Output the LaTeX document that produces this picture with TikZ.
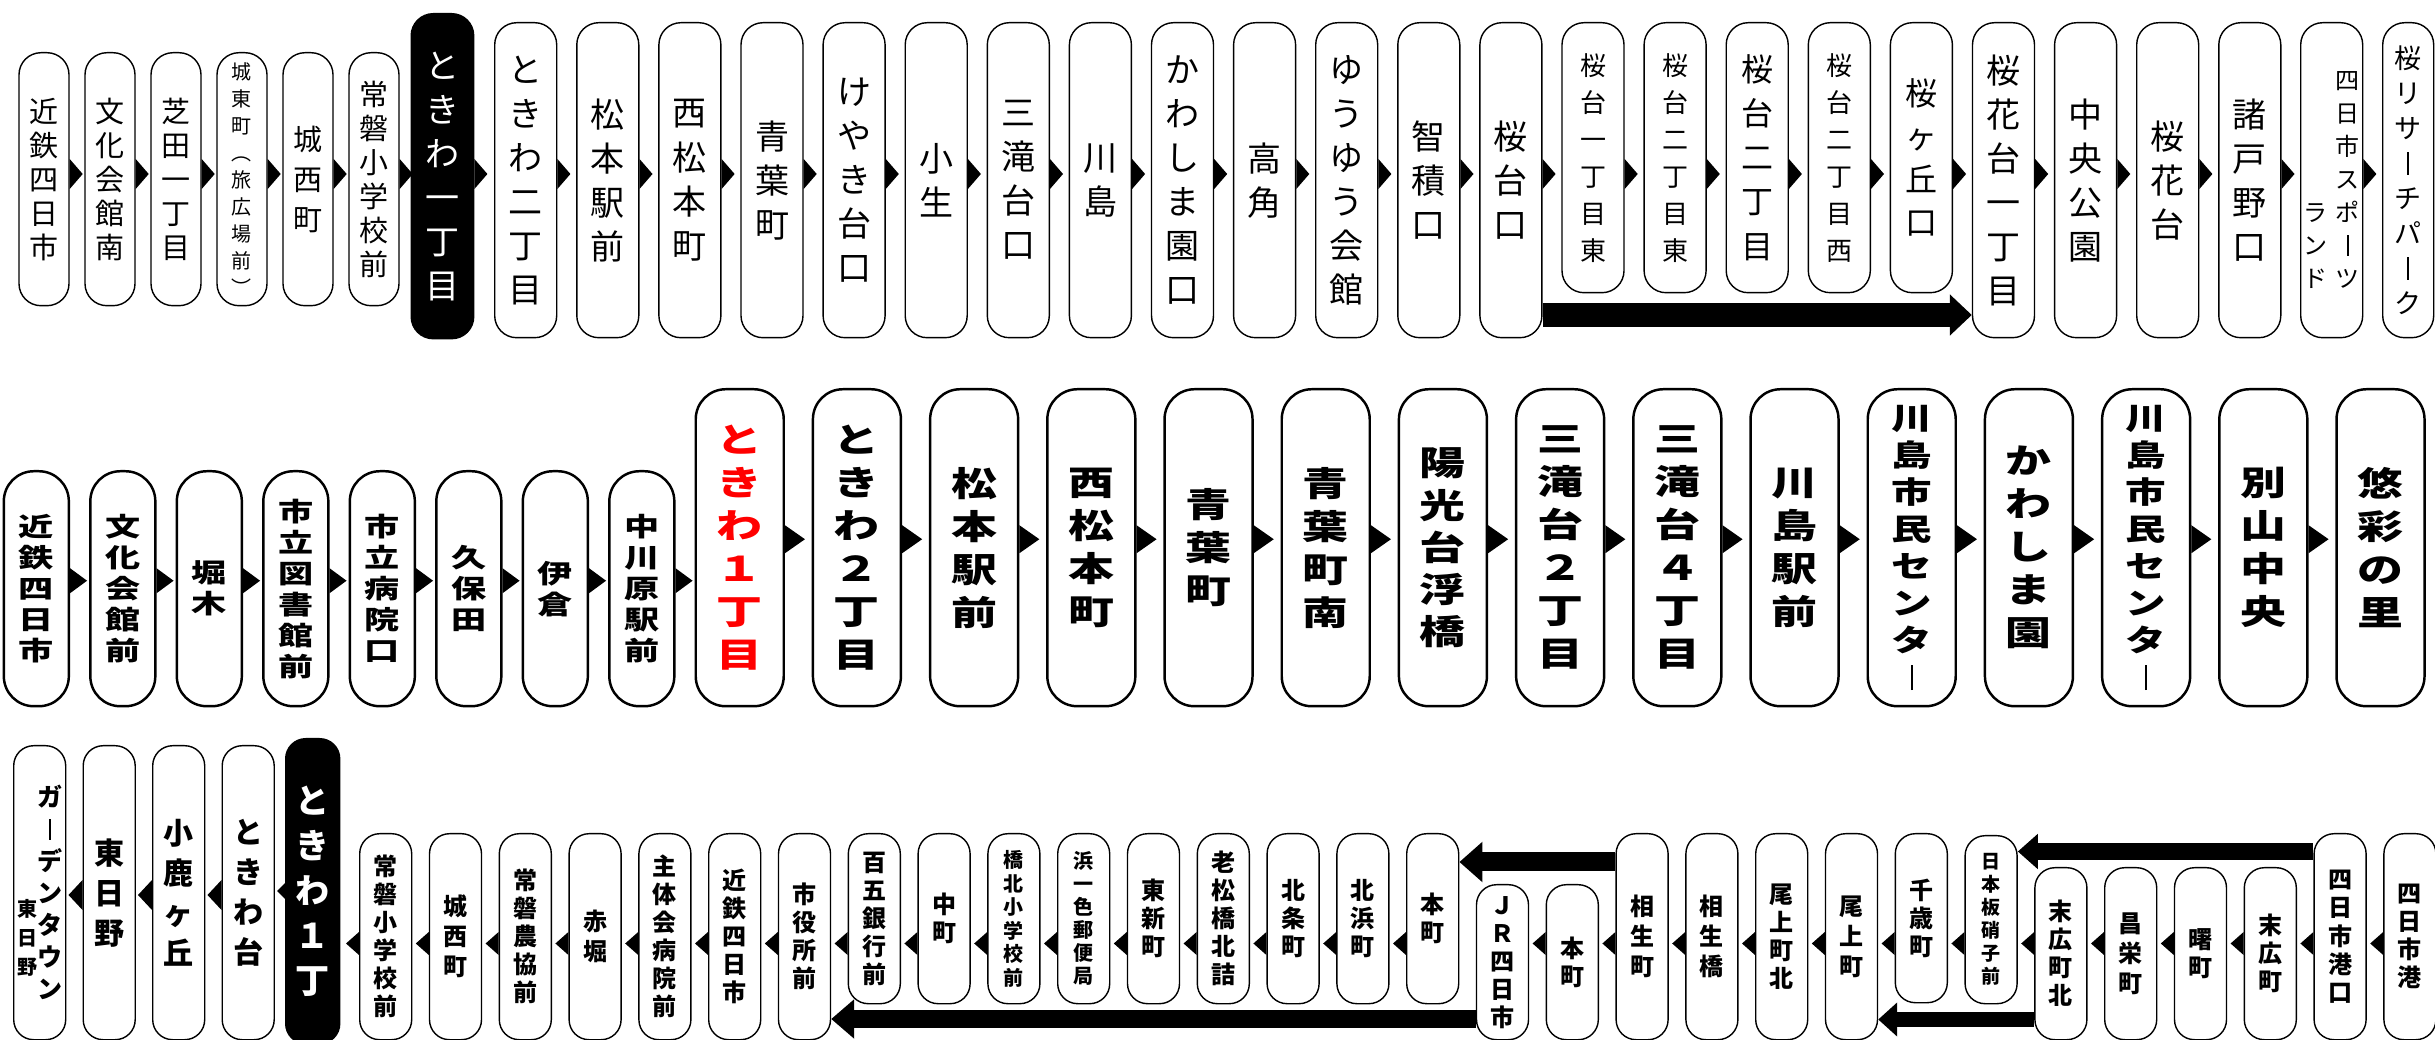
\documentclass[tikz,border=0pt]{standalone}
\usepackage{fontspec}
\newfontfamily\jp{Noto Sans CJK JP}
\newfontfamily\jpw[FakeStretch=1.35]{Noto Sans CJK JP}
\usetikzlibrary{arrows.meta}
\makeatletter
\newcommand\fpx[2]{\fontsize{\fpeval{(#1)*0.28453}pt}{\fpeval{(#2)*0.28453}pt}\selectfont}
\protected\def\cho{\rule[-0.04em]{0.08em}{0.84em}}
\newcommand\tate[1]{\edef\tate@l{#1}\vbox{\expandafter\@tfor\expandafter\tate@c\expandafter:\expandafter=\tate@l\do{\hbox to 1em{\hss\tate@c\hss}}}}
\makeatother
\begin{document}
\begin{tikzpicture}[x=0.01cm,y=-0.01cm,line join=round,
  stn/.style={draw,fill=white,anchor=north west,inner sep=0pt,line width=0.4pt},
  sz/.style 2 args={minimum width=#1*0.01cm,minimum height=#2*0.01cm},
  rowa/.style={stn,rounded corners=0.22cm,font=\jp},
  rowb/.style={stn,rounded corners=0.3cm,line width=0.7pt,font=\jpw\bfseries},
  rowc/.style={stn,rounded corners=0.2cm,font=\jp\bfseries},
  dark/.style={fill=black,text=white},
  bar/.style={line width=#1*0.01cm,line cap=butt}]
\useasboundingbox (0,0) rectangle (2435,1040);
\foreach \nm/\fz/\ls [count=\i] in {近鉄四日市/29/34,文化会館南/29/34,芝田一丁目/29/34,城東町︵旅広場前︶/20/27,城西町/29/40,常磐小学校前/29/34}
  \node[rowa,sz={50}{253}] (a\i) at ({18.3+66*(\i-1)},52) {\fpx{\fz}{\ls}\tate{\nm}};
\node[rowa,dark,sz={62.5}{325}] (a7) at (410.5,13) {\fpx{34}{44}\tate{ときわ一丁目}};
\foreach \nm/\fz/\ls/\hh [count=\i from 8] in {ときわ二丁目/34/44/315,松本駅前/34/44/315,西松本町/34/44/315,青葉町/34/44/315,けやき台口/34/44/315,小生/34/44/315,三滝台口/34/44/315,川島/34/44/315,かわしま園口/34/44/315,高角/34/44/315,ゆうゆう会館/34/44/315,智積口/34/44/315,桜台口/34/44/315,
  桜台一丁目東/26/37/270,桜台二丁目東/26/37/270,桜台二丁目/32/44/270,桜台二丁目西/26/37/270,桜ヶ丘口/32/43/270,
  桜花台一丁目/34/44/315,中央公園/34/44/315,桜花台/34/44/315,諸戸野口/34/44/315}
  \node[rowa,sz={62}{\hh}] (a\i) at ({494+82.1*(\i-8)},22) {\fpx{\fz}{\ls}\tate{\nm}};
\node[rowa,sz={62}{315}] (a30) at (2300,22) {\fpx{24}{33}\tate{ランド}\kern0.08cm\tate{四日市スポ\cho ツ}};
\node[rowa,sz={51}{315}] (a31) at (2382,22) {\fpx{27}{35}\tate{桜リサ\cho チパ\cho ク}};
\foreach \i in {1,...,30}
  \fill (a\i.east |- 0,159) -- ++(13,15) -- ++(-13,15) -- cycle;
\draw[bar=24,-{Triangle[length=0.22cm,width=0.40cm]}] (a20.east |- 0,315) -- (a26.west |- 0,315);

\foreach \nm [count=\i] in {近鉄四日市,文化会館前,堀木,市立図書館前,市立病院口,久保田,伊倉,中川原駅前}
  \node[rowb,sz={65}{235}] (b\i) at ({2.6+86.5*(\i-1)},470) {\fpx{26}{31}\tate{\nm}};
\node[rowb,text=red,sz={88}{317}] (b9) at (694.5,388) {\fpx{34}{43}\tate{ときわ１丁目}};
\foreach \nm/\fz/\ls [count=\i from 10] in {ときわ２丁目/34/43,松本駅前/34/43,西松本町/34/43,青葉町/34/43,青葉町南/34/43,陽光台浮橋/34/42,三滝台２丁目/34/43,三滝台４丁目/34/43,川島駅前/34/43,川島市民センタ\cho/30/37,かわしま園/34/43,川島市民センタ\cho/30/37,別山中央/34/43,悠彩の里/34/43}
  \node[rowb,sz={88}{317}] (b\i) at ({694.5+117.2*(\i-9)},388) {\fpx{\fz}{\ls}\tate{\nm}};
\foreach \i in {1,...,8}
  \fill (b\i.east) ++(0,-20.5) -- ++(17,12.5) -- ++(-17,12.5) -- cycle;
\foreach \i in {9,...,22}
  \fill (b\i.east) ++(0,-22.5) -- ++(20,14) -- ++(-20,14) -- cycle;

\node[rowc,sz={52}{294}] (c1) at (13,745) {\raisebox{0.24cm}{\fpx{20}{29}\tate{東日野}}\fpx{25}{32}\tate{ガ\cho デンタウン}};
\foreach \nm [count=\i from 2] in {東日野,小鹿ヶ丘,ときわ台}
  \node[rowc,sz={52}{294}] (c\i) at ({13+69.5*(\i-1)},745) {\fpx{30}{40}\tate{\nm}};
\node[rowc,dark,sz={54}{305}] (c5) at (285,738) {\fpx{34}{45}\tate{ときわ１丁}};
\foreach \nm/\fz/\ls/\yt/\hh [count=\i from 6] in {常磐小学校前/24/28/833/206,城西町/24/30/833/206,常磐農協前/24/28/833/206,赤堀/24/30/833/206,主体会病院前/24/28/833/206,近鉄四日市/24/28/833/206,市役所前/24/28/833/206,
  百五銀行前/24/28/833/170,中町/24/28/833/170,橋北小学校前/20/23.5/833/170,浜一色郵便局/20/23/833/170,東新町/24/28/833/170,老松橋北詰/24/28/833/170,北条町/24/28/833/170,北浜町/24/28/833/170,本町/24/28/833/170,
  ＪＲ四日市/24/28/884/155,本町/24/28/884/155,
  相生町/24/30/833/206,相生橋/24/30/833/206,尾上町北/24/28/833/206,尾上町/24/30/833/206,
  千歳町/24/28/833/169,日本板硝子前/19/23/835/168,
  末広町北/24/28/867/172,昌栄町/24/30/867/172,曙町/24/28/867/172,末広町/24/28/867/172,
  四日市港口/24/28/833/206,四日市港/24/28/833/206}
  \node[rowc,sz={52}{\hh}] (c\i) at ({359+69.8*(\i-6)},\yt) {\fpx{\fz}{\ls}\tate{\nm}};
\foreach \j in {2,3,4}
  \fill (c\j.west |- 0,880) -- ++(-14,15) -- ++(14,15) -- cycle;
\fill (c5.west |- 0,883) -- ++(-8,8) -- ++(8,8) -- cycle;
\foreach \j in {6,...,21,23,24,...,35}
  \fill (c\j.west |- 0,932) -- ++(-13,11.5) -- ++(13,11.5) -- cycle;
\draw[bar=17,-{Triangle[length=0.20cm,width=0.34cm]}] (c34.west |- 0,851.5) -- (c29.east |- 0,851.5);
\draw[bar=15,-{Triangle[length=0.19cm,width=0.33cm]}] (c30.west |- 0,1019.5) -- (c27.east |- 0,1019.5);
\draw[bar=19,-{Triangle[length=0.23cm,width=0.39cm]}] (c24.west |- 0,862) -- (c21.east |- 0,862);
\draw[bar=18,-{Triangle[length=0.23cm,width=0.38cm]}] (c22.west |- 0,1019) -- (c12.east |- 0,1019);
\end{tikzpicture}
\end{document}
